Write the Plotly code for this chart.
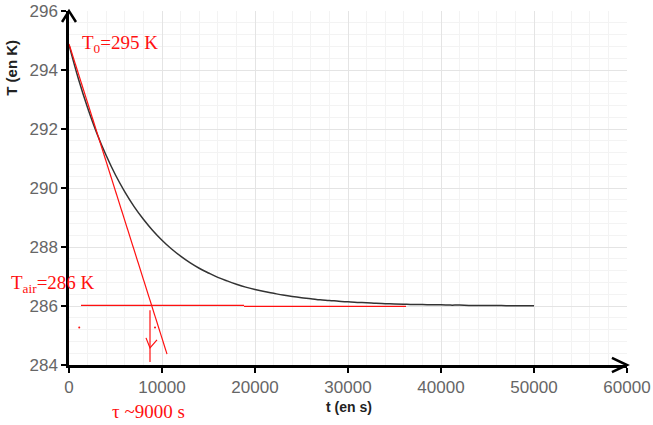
import plotly.graph_objects as go

# Measured curve (t in s, T in K)
t_vals = list(range(0, 51000, 1000))
T_vals = [294.85, 293.71, 292.72, 291.85, 291.10, 290.44, 289.87, 289.37, 288.94, 288.56,
          288.23, 287.94, 287.69, 287.47, 287.28, 287.12, 286.97, 286.85, 286.74, 286.64,
          286.56, 286.49, 286.43, 286.37, 286.32, 286.28, 286.25, 286.21, 286.19, 286.16,
          286.14, 286.12, 286.11, 286.09, 286.08, 286.07, 286.06, 286.05, 286.05, 286.04,
          286.04, 286.03, 286.03, 286.02, 286.02, 286.02, 286.02, 286.01, 286.01, 286.01,
          286.01]

# Hand-drawn red construction lines
tangent_t = [0, 10540]
tangent_T = [294.88, 284.37]
air1_t = [1290, 18820]
air1_T = [286.02, 286.02]
air2_t = [18820, 36240]
air2_T = [285.99, 285.99]
arrow_t = [8710, 8710]
arrow_T = [285.86, 284.10]
barb_t = [8280, 8710, 9460]
barb_T = [284.92, 284.58, 284.85]
dots_t = [1100, 9250]
dots_T = [285.27, 285.27]

x_ticks = [0, 10000, 20000, 30000, 40000, 50000, 60000]
y_ticks = [284, 286, 288, 290, 292, 294, 296]

RED = "#ff1010"
fig = go.Figure()
fig.add_trace(go.Scatter(x=t_vals, y=T_vals, mode="lines", line=dict(color="#333333", width=1.5),
                         line_shape="spline", hoverinfo="skip"))
for xs, ys in [(tangent_t, tangent_T), (air1_t, air1_T), (air2_t, air2_T),
               (arrow_t, arrow_T), (barb_t, barb_T)]:
    fig.add_trace(go.Scatter(x=xs, y=ys, mode="lines", line=dict(color=RED, width=1.2)))
fig.add_trace(go.Scatter(x=dots_t, y=dots_T, mode="markers", marker=dict(color=RED, size=2)))

axis_common = dict(showgrid=True, gridcolor="#e4e4e4", gridwidth=1,
                   showline=True, linecolor="black", linewidth=2.5, zeroline=False,
                   ticks="outside", ticklen=5, tickwidth=2, tickcolor="black",
                   tickfont=dict(size=17, color="#666666"), automargin=False)

fig.update_layout(
    width=653, height=425,
    margin=dict(l=69, r=26, t=11, b=60, autoexpand=False),
    paper_bgcolor="white", plot_bgcolor="white",
    showlegend=False,
    font=dict(family="Arial, Liberation Sans, sans-serif"),
    xaxis=dict(range=[0, 60000], tickvals=x_ticks, ticktext=[str(v) for v in x_ticks],
               minor=dict(dtick=2000, showgrid=True, gridcolor="#f3f3f3"), **axis_common),
    yaxis=dict(range=[284, 296], tickvals=y_ticks, ticktext=[str(v) for v in y_ticks],
               minor=dict(dtick=0.4, showgrid=True, gridcolor="#f3f3f3"), **axis_common),
)

# Axis arrowheads
fig.add_shape(type="path", xref="paper", yref="paper",
              path="M 0.973,0.02 L 1,0 L 0.973,-0.02", line=dict(color="black", width=2.5))
fig.add_shape(type="path", xref="paper", yref="paper",
              path="M -0.0125,0.969 L 0,1 L 0.0125,0.969", line=dict(color="black", width=2.5))

# Axis titles
fig.add_annotation(text="<b>t (en s)</b>", xref="paper", yref="paper", x=0.502, y=-0.118,
                   xanchor="center", yanchor="middle",
                   showarrow=False, font=dict(size=14, color="#222222"))
fig.add_annotation(text="<b>T (en K)</b>", xref="paper", yref="paper", x=-0.102, y=0.84,
                   xanchor="center", yanchor="middle",
                   showarrow=False, font=dict(size=15, color="#222222"), textangle=-90)

# Hand annotations
serif = "Liberation Serif, Times New Roman, serif"
fig.add_annotation(text="T<sub>0</sub>=295 K", xref="paper", yref="paper", x=0.02, y=0.907,
                   xanchor="left", yanchor="middle",
                   showarrow=False, font=dict(family=serif, size=19, color=RED))
fig.add_annotation(text="T<sub>air</sub>=286 K", xref="paper", yref="paper", x=-0.108, y=0.23,
                   xanchor="left", yanchor="middle",
                   showarrow=False, font=dict(family=serif, size=19, color=RED))
fig.add_annotation(text="τ ~9000 s", xref="paper", yref="paper", x=0.074, y=-0.13, xanchor="left",
                   yanchor="middle", showarrow=False, font=dict(family=serif, size=19, color=RED))

fig.write_html("out.html", config={"displayModeBar": False},
               post_script="document.body.style.margin='0';document.body.style.overflow='hidden';")
